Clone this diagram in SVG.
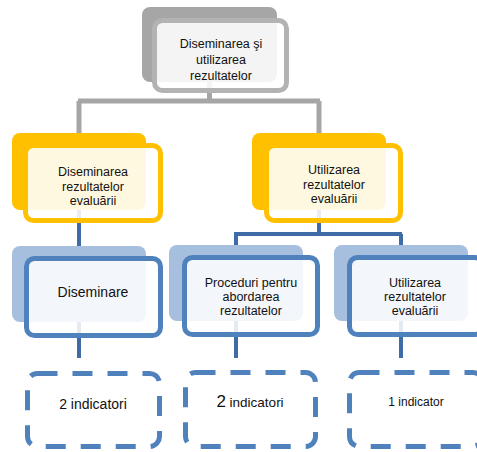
<svg xmlns="http://www.w3.org/2000/svg" width="477" height="452" viewBox="0 0 477 452">
<style>
text{font-family:"Liberation Sans",Arial,sans-serif;fill:#111;text-anchor:middle}
.gb{fill:#a6a6a6}
.gf{fill:#fff;fill-opacity:.88;stroke:#b3b3b3;stroke-width:5}
.yb{fill:#ffc000}
.yf{fill:#fff;fill-opacity:.88;stroke:#ffc000;stroke-width:5}
.bb{fill:#a7bfde}
.bf{fill:#fff;fill-opacity:.86;stroke:#4f81bd;stroke-width:5}
.dash{fill:none;stroke:#4f81bd;stroke-width:5;stroke-dasharray:20 15}
.cg{fill:none;stroke:#a6a6a6;stroke-width:5}
.cb{fill:none;stroke:#3f6ca6;stroke-width:4}
</style>
<g id="connectors">
<path class="cg" d="M209.5,60 V101 M78,101 H320 M79,101 V150 M319,101 V150"/>
<path class="cb" d="M79,200 V262 M319,200 V234 M234,234 H402 M236,234 V262 M401,234 V262 M79,310 V358 M236,310 V358 M401,310 V358"/>
</g>
<g id="top">
<rect class="gb" x="142" y="7" width="135" height="75" rx="8"/>
<rect class="gf" x="154.5" y="20.5" width="132" height="70" rx="8"/>
<text font-size="12.5"><tspan x="221" y="48">Diseminarea şi</tspan><tspan x="221" y="64">utilizarea</tspan><tspan x="221" y="80">rezultatelor</tspan></text>
</g>
<g id="yellow-left">
<rect class="yb" x="12" y="133" width="134" height="77" rx="8"/>
<rect class="yf" x="25.5" y="145.5" width="135" height="75" rx="8"/>
<text font-size="12.5"><tspan x="93" y="176">Diseminarea</tspan><tspan x="93" y="190.5">rezultatelor</tspan><tspan x="93" y="205">evaluării</tspan></text>
</g>
<g id="yellow-right">
<rect class="yb" x="252" y="133" width="134" height="77" rx="8"/>
<rect class="yf" x="266.5" y="145.5" width="134" height="75" rx="8"/>
<text font-size="12.5"><tspan x="334" y="174">Utilizarea</tspan><tspan x="334" y="188.5">rezultatelor</tspan><tspan x="334" y="203">evaluării</tspan></text>
</g>
<g id="blue-left">
<rect class="bb" x="12" y="246" width="134" height="76" rx="8"/>
<rect class="bf" x="26.5" y="258.5" width="134" height="77" rx="8"/>
<text font-size="14" x="93" y="297">Diseminare</text>
</g>
<g id="blue-mid">
<rect class="bb" x="169" y="245" width="134" height="76" rx="8"/>
<rect class="bf" x="184.5" y="257.5" width="133" height="77" rx="8"/>
<text font-size="12.5"><tspan x="251" y="287">Proceduri pentru</tspan><tspan x="251" y="301">abordarea</tspan><tspan x="251" y="315">rezultatelor</tspan></text>
</g>
<g id="blue-right">
<rect class="bb" x="334" y="245" width="134" height="76" rx="8"/>
<rect class="bf" x="349.5" y="257.5" width="133" height="77" rx="8"/>
<text font-size="12.5"><tspan x="415" y="287">Utilizarea</tspan><tspan x="415" y="301">rezultatelor</tspan><tspan x="415" y="315">evaluării</tspan></text>
</g>
<g id="ind-left">
<rect class="dash" x="27.5" y="373.5" width="132" height="73" rx="10"/>
<text font-size="14" x="93" y="409">2 indicatori</text>
</g>
<g id="ind-mid">
<rect class="dash" x="185.5" y="372.5" width="130" height="74" rx="10"/>
<text x="250" y="407"><tspan font-size="17">2</tspan><tspan font-size="13.5"> indicatori</tspan></text>
</g>
<g id="ind-right">
<rect class="dash" x="349.5" y="372.5" width="133" height="74" rx="10"/>
<text font-size="12" x="416" y="406">1 indicator</text>
</g>
</svg>
